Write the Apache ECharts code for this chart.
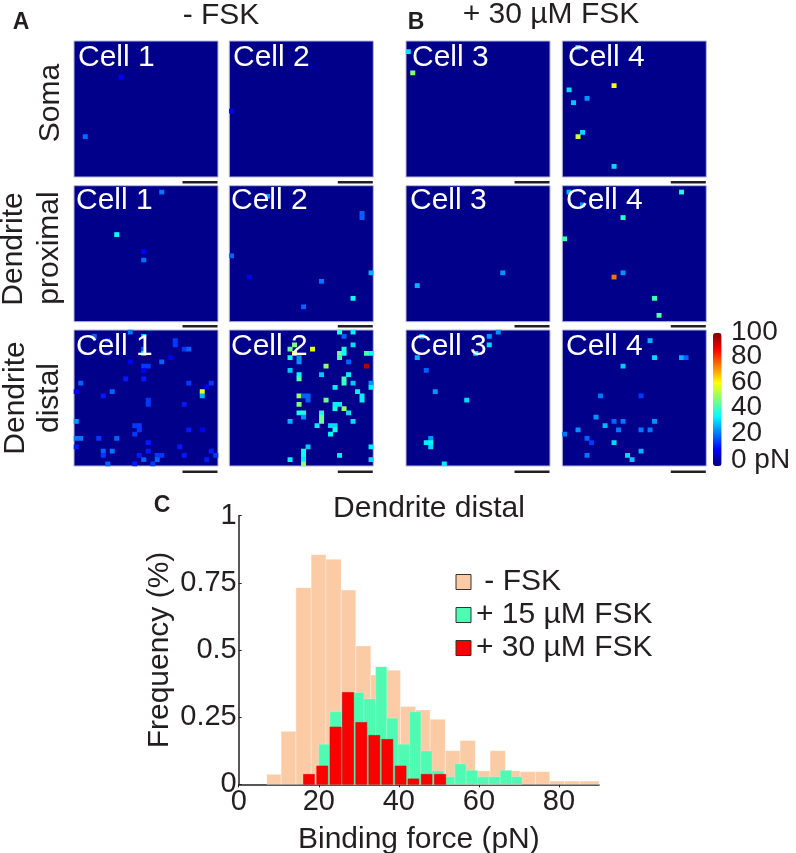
<!DOCTYPE html>
<html><head><meta charset="utf-8">
<style>html,body{margin:0;padding:0;background:#fff}#c{width:796px;height:853px}</style>
<script src="https://cdn.jsdelivr.net/npm/echarts@6/dist/echarts.min.js"></script>
</head><body><div id="c"></div>
<script>
// force maps: [column, row, binding force pN]
const somaCell1=[[10,8,12],[2,22,23]];
const somaCell2=[[0,16,12]];
const somaCell3=[[0,2,35],[1,7,50]];
const somaCell4=[[3,1,32],[1,11,34],[2,14,32],[5,13,27],[11,10,62],[4,21,34],[3,22,58],[11,29,34]];
const proxCell1=[[19,1,24],[9,11,38],[15,15,12],[15,17,23]];
const proxCell2=[[8,2,27],[29,6,22],[29,7,22],[0,16,22],[4,21,12],[20,22,24],[31,20,30],[27,26,38],[16,28,22]];
const proxCell3=[[21,20,27],[2,23,30]];
const proxCell4=[[1,1,30],[4,4,27],[13,7,42],[26,1,40],[0,12,44],[13,20,27],[11,21,76],[20,26,44],[21,30,46]];
const distCell1=[[4,1,22],[12,0,24],[15,1,32],[7,2,18],[22,2,18],[22,3,18],[24,4,18],[25,4,22],[15,4,22],[15,5,34],[7,5,15],[21,6,12],[12,7,12],[19,7,22],[15,8,18],[16,8,18],[15,9,12],[11,11,15],[15,11,15],[1,12,22],[25,12,18],[30,12,18],[29,13,12],[0,14,12],[8,14,22],[28,14,60],[28,15,30],[6,15,15],[16,16,18],[16,17,18],[24,17,15],[0,21,27],[13,22,18],[14,22,18],[14,23,18],[25,23,15],[28,23,12],[13,24,18],[0,25,24],[1,25,24],[5,25,18],[9,25,22],[16,26,15],[0,27,15],[23,27,15],[6,28,22],[8,28,24],[16,28,15],[30,28,15],[6,29,18],[14,29,15],[18,29,18],[19,29,18],[24,29,15],[31,29,18],[15,30,22],[18,30,22],[29,30,15],[7,31,22],[13,31,15],[17,31,18]];
const distCell2=[[24,0,42],[27,0,36],[25,1,22],[14,3,50],[27,3,34],[13,4,48],[14,5,60],[18,4,60],[25,4,40],[24,5,48],[25,5,38],[24,6,45],[30,5,45],[31,5,38],[13,6,38],[15,6,27],[15,7,27],[26,7,22],[21,8,52],[30,8,95],[13,9,32],[15,10,38],[15,11,46],[20,10,32],[26,10,36],[25,11,44],[25,12,44],[27,12,32],[31,12,27],[31,13,36],[23,13,36],[28,14,36],[15,15,54],[16,15,22],[17,15,22],[17,16,22],[29,15,36],[29,16,36],[21,16,48],[15,17,50],[23,17,36],[24,17,36],[23,18,40],[25,18,52],[20,19,40],[26,19,34],[15,19,40],[16,19,40],[16,20,27],[20,20,48],[20,21,48],[13,21,30],[27,21,34],[19,22,36],[22,22,34],[23,22,34],[23,23,40],[22,24,38],[17,27,32],[16,28,38],[16,29,38],[31,27,36],[24,29,36],[13,30,36],[16,30,36],[31,30,34],[16,31,52]];
const distCell3=[[20,0,27],[18,1,27],[18,3,34],[3,1,30],[15,5,34],[2,6,30],[4,9,22],[6,14,27],[13,16,34],[5,25,27],[4,26,36],[5,26,38],[5,27,34],[8,31,36]];
const distCell4=[[19,2,30],[20,6,34],[26,6,30],[27,6,22],[13,8,32],[8,15,24],[17,15,18],[7,20,27],[11,21,22],[13,21,24],[20,21,27],[9,22,30],[3,23,27],[12,23,24],[17,23,24],[19,23,24],[0,24,24],[5,25,22],[6,26,18],[11,26,34],[17,28,30],[5,29,24],[14,29,34],[15,30,32]];

// histogram bins (pN) and frequencies
const fskEdges=[7,10.6,14.3,18.1,21.8,25.6,29.25,33,36.75,40.4,44.2,47.8,51.6,55.3,59.1,62.8,66.6,70.3,74.1,77.7,81.4,85.2,90];
const fskFreq=[0.037,0.197,0.732,0.855,0.838,0.723,0.515,0.407,0.425,0.29,0.277,0.242,0.125,0.163,0.05,0.125,0.05,0.047,0.047,0.012,0.012,0.012];
const fsk15Edges=[20,22.8,25.7,28.5,31.3,34.2,37,39.8,42.7,45.5,48.3,51.2,54,56.8,59.7,62.5,65.3,68.2,70.8];
const fsk15Freq=[0.149,0.27,0.3,0.342,0.318,0.438,0.246,0.149,0.27,0.124,0.05,0.028,0.076,0.052,0.028,0.028,0.052,0.028];
const fsk30Starts=[16.2,19.5,22.8,25.9,29.25,32.5,35.75,39.1,42.3,45.6,48.9];
const fsk30Ends=[18.9,22.25,25.6,28.7,32,35.25,38.5,41.8,45,48.3,51.7];
const fsk30Freq=[0.037,0.068,0.213,0.342,0.23,0.182,0.167,0.068,0.02,0.037,0.037];

const xTicks=[0,20,40,60,80];
const yTickLabels={0:'0',0.25:'0.25',0.5:'0.5',0.75:'0.75',1:'1'};
const colorbarLabels=[['100',332],['80',356],['60',382],['40',407],['20',433],['0 pN',460]];
const jet=['#00007f','#0000ff','#007fff','#00ffff','#7fff7f','#ffff00','#ff7f00','#ff0000','#7f0000'];

const ink='#231f20', font='"Liberation Sans",Arial,sans-serif';
const idx=Array.from({length:32},(_,i)=>String(i));
const colX=[74,229.3,406,562.3], rowY=[41,185.7,330], panelW=144, panelH=136;
const maps=[[somaCell1,somaCell2,somaCell3,somaCell4],[proxCell1,proxCell2,proxCell3,proxCell4],[distCell1,distCell2,distCell3,distCell4]];
const cellLabelX=[[78,233,412,568],[76,231,410,566],[76,231,410,566]];
const cellLabelY=[58,201,347];
const barY=[181,325,470.5];

const grid=[],xAxis=[],yAxis=[],series=[],graphic=[];
function txt(t,x,y,o){o=o||{};graphic.push({type:'text',x:x,y:y,rotation:o.rot||0,z:50,silent:true,
  style:{text:t,fill:o.fill||ink,font:(o.weight||'normal')+' '+(o.size||30)+'px '+font,align:o.align||'center',verticalAlign:'middle'}});}

maps.forEach((row,r)=>row.forEach((d,c)=>{
  const i=grid.length;
  grid.push({left:colX[c],top:rowY[r],width:panelW,height:panelH,show:true,backgroundColor:'#00008b',borderColor:'#b4b8d8',borderWidth:1,outerBoundsMode:'none'});
  xAxis.push({type:'category',gridIndex:i,data:idx,show:false});
  yAxis.push({type:'category',gridIndex:i,data:idx,inverse:true,show:false});
  series.push({type:'heatmap',xAxisIndex:i,yAxisIndex:i,data:d,silent:true,progressive:0,animation:false});
  txt('Cell '+(c+1),cellLabelX[r][c],cellLabelY[r],{fill:'#fff',size:30,align:'left'});
  graphic.push({type:'rect',z:50,silent:true,shape:{x:colX[c]+108.5,y:barY[r],width:35,height:2.4},style:{fill:ink}});
}));

const h=grid.length;
grid.push({left:238.7,top:515.7,width:360.3,height:268.6,outerBoundsMode:'none'});
xAxis.push({type:'value',gridIndex:h,min:0,max:90,interval:20,splitLine:{show:false},
  axisLine:{show:true,onZero:false,lineStyle:{color:ink,width:1.5}},axisTick:{length:3,lineStyle:{color:ink}},
  axisLabel:{color:ink,fontSize:29,fontFamily:font,margin:3,showMaxLabel:false,formatter:v=>xTicks.includes(v)?String(v):''},
  name:'Binding force (pN)',nameLocation:'middle',nameGap:40,nameTextStyle:{color:ink,fontSize:30,fontFamily:font}});
yAxis.push({type:'value',gridIndex:h,min:0,max:1,interval:0.25,splitLine:{show:false},
  axisLine:{show:true,onZero:false,lineStyle:{color:ink,width:1.5}},axisTick:{inside:true,length:3,lineStyle:{color:ink}},
  axisLabel:{color:ink,fontSize:29,fontFamily:font,margin:2,formatter:v=>yTickLabels[v]},
  name:'Frequency (%)',nameLocation:'middle',nameGap:64,nameTextStyle:{color:ink,fontSize:30,fontFamily:font}});

function binSeries(name,color,starts,ends,freq,edge){
  series.push({type:'custom',name:name,xAxisIndex:h,yAxisIndex:h,silent:true,animation:false,clip:false,
    itemStyle:{color:color},encode:{x:[0,1],y:2},
    data:freq.map((f,k)=>[starts[k],ends[k],f]),
    renderItem:(p,api)=>{const a=api.coord([api.value(0),api.value(2)]),b=api.coord([api.value(1),0]);
      return {type:'rect',shape:{x:a[0],y:a[1],width:b[0]-a[0],height:b[1]-a[1]},style:{fill:color,stroke:edge,lineWidth:0.6}};}});
}
binSeries(' - FSK','#fbcba6',fskEdges.slice(0,-1),fskEdges.slice(1),fskFreq,'rgba(255,255,255,0.55)');
binSeries('+ 15 µM FSK','#4ffbb2',fsk15Edges.slice(0,-1),fsk15Edges.slice(1),fsk15Freq,'rgba(255,255,255,0.35)');
binSeries('+ 30 µM FSK','#fb0000',fsk30Starts,fsk30Ends,fsk30Freq,'#d80000');

txt('A',21,23,{weight:'bold',size:23});
txt('B',416,23,{weight:'bold',size:23});
txt('C',162,506,{weight:'bold',size:23});
txt('- FSK',221,16);
txt('+ 30 µM FSK',551,15);
txt('Dendrite distal',429,509,{size:30});
const turn=Math.PI/2;
txt('Soma',51,103,{rot:turn});
txt('Dendrite',14,249,{rot:turn});
txt('proximal',50,248,{rot:turn});
txt('Dendrite',16,398,{rot:turn});
txt('distal',50,398,{rot:turn});
colorbarLabels.forEach(l=>txt(l[0],731,l[1],{size:28,align:'left'}));

const chart=echarts.init(document.getElementById('c'),null,{renderer:'canvas'});
chart.setOption({animation:false,backgroundColor:'#fff',grid,xAxis,yAxis,series,graphic,
  visualMap:{type:'continuous',min:0,max:100,seriesIndex:Array.from({length:12},(_,i)=>i),dimension:2,
    left:713,top:333,itemWidth:8.6,itemHeight:133,text:['',''],showLabel:false,calculable:false,realtime:false,
    inRange:{color:jet},textStyle:{fontSize:0},padding:0,itemGap:0},
  legend:{show:true,orient:'vertical',left:450.5,top:562,itemWidth:15,itemHeight:15,itemGap:3,selectedMode:false,
    icon:'rect',itemStyle:{borderColor:'#333',borderWidth:1},
    textStyle:{color:ink,fontSize:30,fontFamily:font,padding:0},
    data:[' - FSK','+ 15 µM FSK','+ 30 µM FSK']}
});
</script></body></html>
